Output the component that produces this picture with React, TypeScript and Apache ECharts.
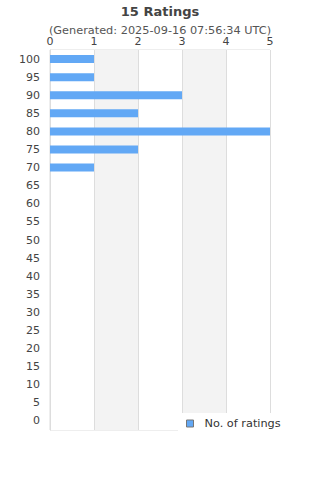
import React, { useEffect, useRef } from "react";
import * as echarts from "echarts";

const categories = ["0","5","10","15","20","25","30","35","40","45","50","55","60","65","70","75","80","85","90","95","100"];
const ratings = [0,0,0,0,0,0,0,0,0,0,0,0,0,0,1,2,5,2,3,1,1];
const xTicks = [0, 1, 2, 3, 4, 5];

export default function App() {
  const ref = useRef<HTMLDivElement>(null);
  useEffect(() => {
    document.body.style.margin = "0";
    const chart = echarts.init(ref.current!, null, { renderer: "svg" });
    chart.setOption({
      animation: false,
      textStyle: { fontFamily: "DejaVu Sans" },
      title: {
        text: "15 Ratings",
        subtext: "(Generated: 2025-09-16 07:56:34 UTC)",
        left: "center",
        top: 0,
        itemGap: 7,
        textStyle: { fontSize: 13, fontWeight: "bold", color: "#444", fontFamily: "DejaVu Sans" },
        subtextStyle: { fontSize: 11.3, color: "#555", fontFamily: "DejaVu Sans" },
      },
      legend: {
        left: 178,
        top: 413,
        backgroundColor: "#fff",
        padding: [5, 8],
        itemWidth: 7,
        itemHeight: 7,
        icon: "rect",
        itemStyle: { borderColor: "#777", borderWidth: 1 },
        textStyle: { fontSize: 11.3, color: "#333", fontFamily: "DejaVu Sans", padding: [0, 0, 0, 6] },
        data: ["No. of ratings"],
      },
      grid: {
        left: 50,
        right: 50,
        top: 50,
        bottom: 50,
        show: true,
        borderColor: "#ddd",
        borderWidth: 1,
        backgroundColor: "transparent",
      },
      xAxis: {
        type: "value",
        position: "top",
        min: xTicks[0],
        max: xTicks[xTicks.length - 1],
        interval: 1,
        axisLine: { show: false },
        axisTick: { show: false },
        axisLabel: { color: "#444", fontSize: 11, margin: 3, fontFamily: "DejaVu Sans" },
        splitLine: { show: true, lineStyle: { color: "#ddd" } },
        splitArea: { show: true, areaStyle: { color: ["#ffffff", "#f3f3f3"] } },
      },
      yAxis: {
        type: "category",
        data: categories,
        axisLine: { show: true, lineStyle: { color: "#ddd" } },
        axisTick: { show: false },
        axisLabel: { color: "#444", fontSize: 11, margin: 10, fontFamily: "DejaVu Sans" },
      },
      series: [
        {
          name: "No. of ratings",
          type: "bar",
          data: ratings.map((v) => (v === 0 ? "-" : v)),
          barWidth: 8,
          itemStyle: { color: "#62a8f5" },
        },
      ],
    });
    return () => chart.dispose();
  }, []);
  return <div ref={ref} style={{ width: 320, height: 480 }} />;
}
